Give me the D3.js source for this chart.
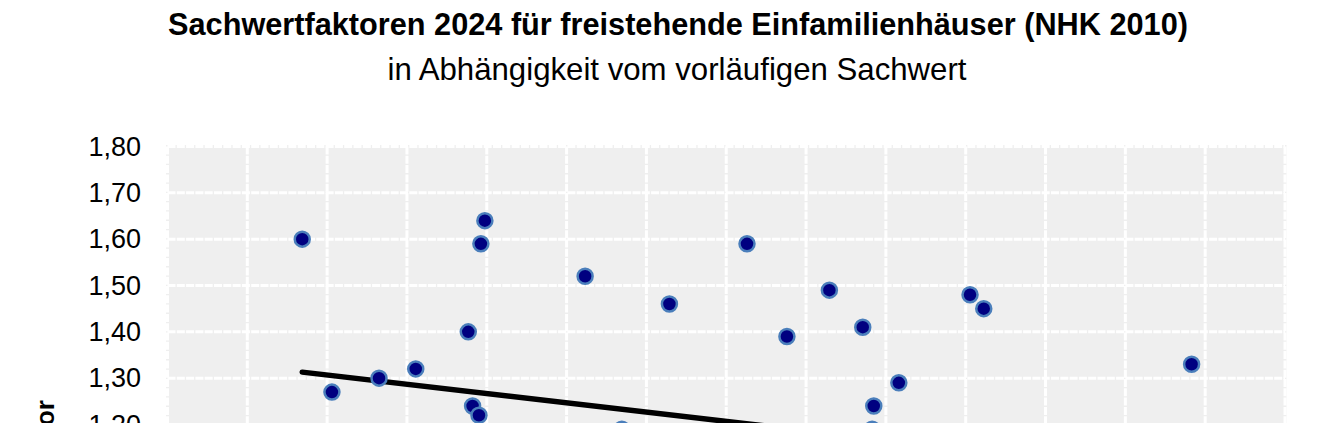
<!DOCTYPE html>
<html>
<head>
<meta charset="utf-8">
<script src="https://cdn.jsdelivr.net/npm/d3@7"></script>
<style>
  body { margin: 0; background: #fff; overflow: hidden; }
  text { font-family: "Liberation Sans", Arial, sans-serif; }
</style>
</head>
<body>
<div id="chart"></div>
<script>
// vorlaeufiger Sachwert (EUR) and Sachwertfaktor of each sale
const sachwert = [84400, 103000, 132500, 155500, 188400, 198800, 196300, 191100, 195100,
  261600, 284600, 314400, 363000, 388000, 414600, 435500, 441400, 442400, 458100,
  502700, 511300, 641500];
const faktor = [1.60, 1.27, 1.30, 1.32, 1.40, 1.64, 1.59, 1.24, 1.22,
  1.52, 1.19, 1.46, 1.59, 1.39, 1.49, 1.41, 1.19, 1.24, 1.29,
  1.48, 1.45, 1.33];

// trend line
const trendX = [84400, 641500];
const trendY = [1.313, 1.09];

const yTicks = [0.3, 0.4, 0.5, 0.6, 0.7, 0.8, 0.9, 1.0, 1.1, 1.2, 1.3, 1.4, 1.5, 1.6, 1.7, 1.8];
const xTicks = d3.range(0, 700001, 50000);

const title = "Sachwertfaktoren 2024 für freistehende Einfamilienhäuser (NHK 2010)";
const subtitle = "in Abhängigkeit vom vorläufigen Sachwert";
const yTitle = "Sachwertfaktor";
const xTitle = "vorläufiger Sachwert in €";

const width = 1328, height = 920;
const margin = {top: 146.5, right: 43, bottom: 78.5, left: 167.5};

const de = d3.formatLocale({decimal: ",", thousands: ".", grouping: [3], currency: ["", " €"]});

const svg = d3.select("#chart").append("svg")
    .attr("width", width)
    .attr("height", height);

const x = d3.scaleLinear()
    .domain([0, 700000])
    .range([margin.left, width - margin.right]);

const y = d3.scaleLinear()
    .domain([0.3, 1.8])
    .range([height - margin.bottom, margin.top]);

// plot area
svg.append("rect")
    .attr("x", x.range()[0] - 1.5)
    .attr("y", y.range()[1] - 1.5)
    .attr("width", x.range()[1] - x.range()[0] + 3)
    .attr("height", y.range()[0] - y.range()[1] + 3)
    .attr("fill", "#efefef");

// grid
svg.append("g")
  .selectAll("line")
  .data(yTicks)
  .join("line")
    .attr("x1", x.range()[0]).attr("x2", x.range()[1])
    .attr("y1", d => y(d)).attr("y2", d => y(d))
    .attr("stroke", "#fff").attr("stroke-width", 3)
    .attr("stroke-dasharray", "8,1.3");

svg.append("g")
  .selectAll("line")
  .data(xTicks)
  .join("line")
    .attr("x1", d => x(d)).attr("x2", d => x(d))
    .attr("y1", y.range()[1]).attr("y2", y.range()[0])
    .attr("stroke", "#fff").attr("stroke-width", 3)
    .attr("stroke-dasharray", "8,1.3");

// axes
const yAxis = svg.append("g")
    .attr("transform", "translate(" + margin.left + ",0)")
    .call(d3.axisLeft(y).tickValues(yTicks).tickSize(0).tickPadding(26.5).tickFormat(de.format(".2f")));
yAxis.select(".domain").remove();
yAxis.selectAll("text")
    .attr("font-size", 27)
    .attr("font-family", "Liberation Sans, Arial, sans-serif")
    .attr("fill", "#000");

const xAxis = svg.append("g")
    .attr("transform", "translate(0," + y.range()[0] + ")")
    .call(d3.axisBottom(x).tickValues(xTicks).tickSize(0).tickPadding(14).tickFormat(de.format(",.0f")));
xAxis.select(".domain").remove();
xAxis.selectAll("text")
    .attr("font-size", 17)
    .attr("font-family", "Liberation Sans, Arial, sans-serif")
    .attr("fill", "#000");

// trend line
const trend = trendX.map((d, i) => [d, trendY[i]]);
svg.append("path")
    .datum(trend)
    .attr("fill", "none")
    .attr("stroke", "#000")
    .attr("stroke-width", 5.5)
    .attr("stroke-linecap", "round")
    .attr("d", d3.line().x(d => x(d[0])).y(d => y(d[1])));

// points
const points = sachwert.map((d, i) => ({x: d, y: faktor[i]}));
svg.append("g")
  .selectAll("circle")
  .data(points)
  .join("circle")
    .attr("cx", d => x(d.x))
    .attr("cy", d => y(d.y))
    .attr("r", 7.5)
    .attr("fill", "#000080")
    .attr("stroke", "#4a7ebb")
    .attr("stroke-width", 2.5);

// titles
svg.append("text")
    .attr("x", 678).attr("y", 35)
    .attr("text-anchor", "middle")
    .attr("font-size", 30.7)
    .attr("font-weight", "bold")
    .text(title);

svg.append("text")
    .attr("x", 677).attr("y", 80)
    .attr("text-anchor", "middle")
    .attr("font-size", 31.2)
    .text(subtitle);

svg.append("text")
    .attr("transform", "translate(53.5," + (y.range()[0] + y.range()[1]) / 2 + ") rotate(-90)")
    .attr("text-anchor", "middle")
    .attr("font-size", 26)
    .attr("font-weight", "bold")
    .text(yTitle);

svg.append("text")
    .attr("x", (x.range()[0] + x.range()[1]) / 2)
    .attr("y", height - 12)
    .attr("text-anchor", "middle")
    .attr("font-size", 24)
    .attr("font-weight", "bold")
    .text(xTitle);
</script>
</body>
</html>
